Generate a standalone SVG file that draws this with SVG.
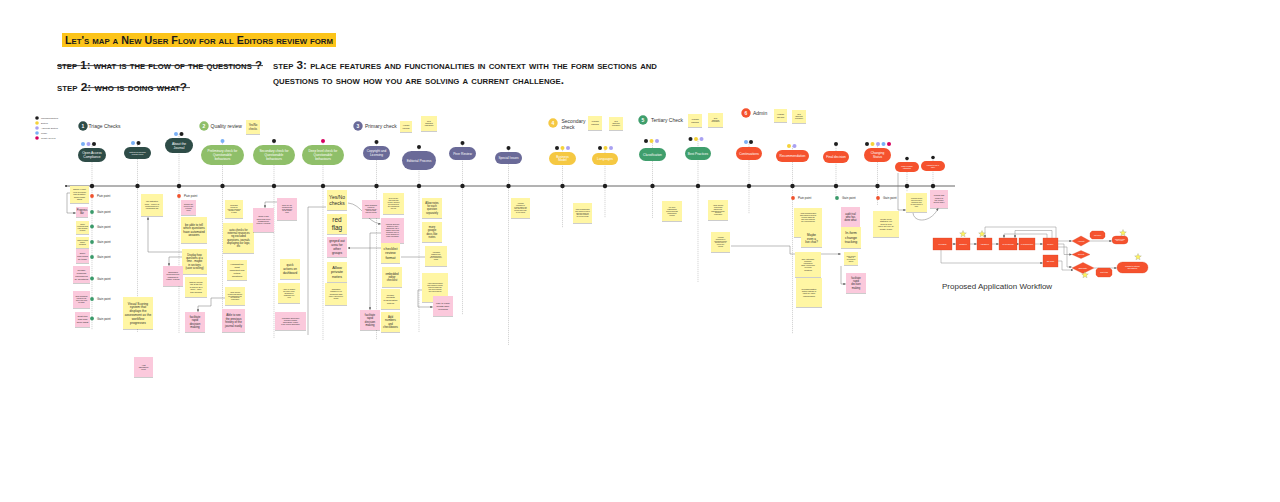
<svg xmlns="http://www.w3.org/2000/svg" width="1280" height="502" viewBox="0 0 1280 502">
<defs>
<style>
.sy{fill:#fff6a4;filter:url(#sh)}
.sp{fill:#fbc9dc;filter:url(#sh)}
.st{font-family:"Liberation Sans",Arial,sans-serif;fill:#2a2a2a;text-anchor:middle}
.pt{font-family:"Liberation Sans",Arial,sans-serif;fill:#ffffff;text-anchor:middle}
.hd{font-family:"Liberation Sans",Arial,sans-serif;fill:#333;font-size:5px}
.nm{font-family:"Liberation Sans",Arial,sans-serif;fill:#fff;font-size:5px;text-anchor:middle;font-weight:bold}
.lb{font-family:"Liberation Sans",Arial,sans-serif;fill:#333;font-size:3px}
.lg{font-family:"Liberation Sans",Arial,sans-serif;fill:#444;font-size:2.2px}
.vl{stroke:#c4c4c4;stroke-width:0.7;stroke-dasharray:1.2 0.8}
.cn{fill:none;stroke:#777;stroke-width:0.5}
.wf{fill:#f5522e;stroke:#d8401f;stroke-width:0.3}
.hand{font-family:"Liberation Sans",Arial,sans-serif;font-weight:bold;font-variant:small-caps;fill:#1a1a1a}
.bk{fill:#1e1e1e}.bl{fill:#7ab0f5}.lv{fill:#a9a1f2}.ye{fill:#f5d33a}.mg{fill:#d6005e}
.dg{fill:#2e4c47}.lgr{fill:#8fbf69}.pu{fill:#6a6a98}.yl{fill:#f5c842}.gr{fill:#3f9e6c}.rd{fill:#f5522e}
</style>
<filter id="sh" x="-20%" y="-20%" width="140%" height="150%"><feDropShadow dx="0" dy="0.8" stdDeviation="0.6" flood-opacity="0.25"/></filter>
<marker id="ah" viewBox="0 0 6 6" refX="5" refY="3" markerWidth="2.6" markerHeight="2.6" orient="auto-start-reverse" markerUnits="userSpaceOnUse"><path d="M0,0 L6,3 L0,6 z" fill="#666"/></marker>
<polygon id="star" points="0,-3.5 0.882,-1.214 3.329,-1.082 1.427,0.464 2.057,2.832 0,1.5 -2.057,2.832 -1.427,0.464 -3.329,-1.082 -0.882,-1.214" fill="#fff45c" stroke="#8a8a8a" stroke-width="0.3"/>
</defs>
<rect width="1280" height="502" fill="#ffffff"/>

<g id="title">
<rect x="62" y="33" width="274" height="14" fill="#fcc419"/>
<text class="hand" x="65" y="44.2" font-size="11" textLength="268" lengthAdjust="spacingAndGlyphs">Let's map a New User Flow for all Editors review form</text>
<text class="hand" x="57" y="68.5" font-size="10.5" textLength="205" lengthAdjust="spacingAndGlyphs">step 1: what is the flow of the questions ?</text>
<line x1="57" y1="65.6" x2="263" y2="65.6" stroke="#1a1a1a" stroke-width="0.8"/>
<text class="hand" x="57" y="90.5" font-size="10.5" textLength="130" lengthAdjust="spacingAndGlyphs">step 2: who is doing what?</text>
<line x1="85" y1="87.6" x2="190" y2="87.6" stroke="#1a1a1a" stroke-width="0.8"/>
<text class="hand" x="273" y="68.5" font-size="10.5" textLength="384" lengthAdjust="spacingAndGlyphs">step 3: place features and functionalities in context with the form sections and</text>
<text class="hand" x="273" y="83.5" font-size="10.5" textLength="291" lengthAdjust="spacingAndGlyphs">questions to show how you are solving a current challenge.</text>
</g>

<g id="legend">
<circle class="bk" cx="37" cy="118" r="1.8"/><text class="lg" x="41" y="118.8">Managing Editors</text>
<circle class="ye" cx="37" cy="123" r="1.8"/><text class="lg" x="41" y="123.8">Editors</text>
<circle class="lv" cx="37" cy="128" r="1.8"/><text class="lg" x="41" y="128.8">Associate Editors</text>
<circle class="bl" cx="37" cy="133" r="1.8"/><text class="lg" x="41" y="133.8">Triage</text>
<circle class="mg" cx="37" cy="138" r="1.8"/><text class="lg" x="41" y="138.8">Quality Review</text>
</g>

<g id="columns">
<line class="vl" x1="92" y1="144" x2="92" y2="330"/>
<line class="vl" x1="137.5" y1="143" x2="137.5" y2="332"/>
<line class="vl" x1="179" y1="134" x2="179" y2="333"/>
<line class="vl" x1="222.5" y1="141" x2="222.5" y2="330"/>
<line class="vl" x1="274" y1="141" x2="274" y2="338"/>
<line class="vl" x1="323" y1="141" x2="323" y2="340"/>
<line class="vl" x1="376.5" y1="142" x2="376.5" y2="340"/>
<line class="vl" x1="419" y1="147" x2="419" y2="332"/>
<line class="vl" x1="462.5" y1="143" x2="462.5" y2="315"/>
<line class="vl" x1="508.5" y1="148" x2="508.5" y2="345"/>
<line class="vl" x1="562.5" y1="148" x2="562.5" y2="228"/>
<line class="vl" x1="605" y1="148" x2="605" y2="218"/>
<line class="vl" x1="652.5" y1="141" x2="652.5" y2="218"/>
<line class="vl" x1="698" y1="139" x2="698" y2="282"/>
<line class="vl" x1="749" y1="142" x2="749" y2="214"/>
<line class="vl" x1="792.5" y1="146" x2="792.5" y2="334"/>
<line class="vl" x1="836" y1="144" x2="836" y2="200"/>
<line class="vl" x1="877.5" y1="144" x2="877.5" y2="205"/>
<line class="vl" x1="907" y1="158" x2="907" y2="192"/>
<line class="vl" x1="933" y1="158" x2="933" y2="190"/>
</g>

<g id="timeline">
<line x1="66" y1="186" x2="955" y2="186" stroke="#555" stroke-width="0.9"/>
<circle class="bk" cx="66" cy="186" r="0.9"/>
<g class="bk">
<circle cx="92" cy="186" r="2.2"/><circle cx="137.5" cy="186" r="2.2"/><circle cx="179" cy="186" r="2.2"/>
<circle cx="222.5" cy="186" r="2.2"/><circle cx="274" cy="186" r="2.2"/><circle cx="323" cy="186" r="2.2"/>
<circle cx="376.5" cy="186" r="2.2"/><circle cx="419" cy="186" r="2.2"/><circle cx="462.5" cy="186" r="2.2"/>
<circle cx="508.5" cy="186" r="2.2"/><circle cx="562.5" cy="186" r="2.2"/><circle cx="605" cy="186" r="2.2"/>
<circle cx="652.5" cy="186" r="2.2"/><circle cx="698" cy="186" r="2.2"/><circle cx="749" cy="186" r="2.2"/>
<circle cx="792.5" cy="186" r="2.2"/><circle cx="836" cy="186" r="2.2"/><circle cx="877.5" cy="186" r="2.2"/>
<circle cx="907" cy="186" r="2.2"/><circle cx="933" cy="186" r="2.2"/>
</g>
</g>

<g id="headers">
<g id="h1"><circle class="dg" cx="83" cy="126" r="4.7"/><text class="nm" x="83" y="127.8">1</text><text class="hd" x="88.5" y="127.8">Triage Checks</text></g>
<g id="h2"><circle class="lgr" cx="204" cy="126" r="4.7"/><text class="nm" x="204" y="127.8">2</text><text class="hd" x="210.5" y="127.8">Quality review</text></g>
<g id="h3"><circle class="pu" cx="358" cy="126" r="4.7"/><text class="nm" x="358" y="127.8">3</text><text class="hd" x="365" y="127.8">Primary check</text></g>
<g id="h4"><circle class="yl" cx="553" cy="123" r="4.7"/><text class="nm" x="553" y="124.8">4</text><text class="hd" x="561.5" y="122.8">Secondary</text><text class="hd" x="561.5" y="129.3">check</text></g>
<g id="h5"><circle class="gr" cx="643" cy="120" r="4.7"/><text class="nm" x="643" y="121.8">5</text><text class="hd" x="651" y="121.8">Tertiary Check</text></g>
<g id="h6"><circle class="rd" cx="746" cy="113" r="4.7"/><text class="nm" x="746" y="114.8">6</text><text class="hd" x="753" y="114.8">Admin</text></g>
</g>

<g id="header-notes">
<g id="hn1"><rect class="sy" x="246" y="120" width="14" height="14"/><text class="st" font-size="2.7" x="253" y="126.3"><tspan x="253">Yes/No</tspan><tspan x="253" dy="3.24">checks</tspan></text></g>
<g id="hn2"><rect class="sy" x="400" y="121" width="12" height="11"/><text class="st" font-size="2.2" x="406" y="125.95"><tspan x="406">Yes/No</tspan><tspan x="406" dy="2.64">checks</tspan></text></g>
<g id="hn3"><rect class="sy" x="421" y="116" width="16" height="15"/><text class="st" font-size="1.6" x="429" y="122.1"><tspan x="429">Clear</tspan><tspan x="429" dy="1.92">"dismissed"</tspan><tspan x="429" dy="1.92">notifications</tspan></text></g>
<g id="hn4"><rect class="sy" x="588" y="116" width="14" height="14"/><text class="st" font-size="2.4" x="595" y="122.4"><tspan x="595">Yes/No</tspan><tspan x="595" dy="2.88">checks</tspan></text></g>
<g id="hn5"><rect class="sy" x="609" y="117" width="14" height="13"/><text class="st" font-size="1.5" x="616" y="122.2"><tspan x="616">Clear</tspan><tspan x="616" dy="1.8">"dismissed"</tspan><tspan x="616" dy="1.8">notifications</tspan></text></g>
<g id="hn6"><rect class="sy" x="688" y="114" width="14" height="13"/><text class="st" font-size="2.4" x="695" y="119.9"><tspan x="695">Yes/No</tspan><tspan x="695" dy="2.88">checks</tspan></text></g>
<g id="hn7"><rect class="sy" x="708" y="113" width="15" height="14"/><text class="st" font-size="1.5" x="715.5" y="118.7"><tspan x="715.5">Clear</tspan><tspan x="715.5" dy="1.8">"dismissed"</tspan><tspan x="715.5" dy="1.8">notifications</tspan></text></g>
<g id="hn8"><rect class="sy" x="774" y="109" width="13" height="13"/><text class="st" font-size="2.3" x="780.5" y="114.9"><tspan x="780.5">Yes/No</tspan><tspan x="780.5" dy="2.76">checks</tspan></text></g>
<g id="hn9"><rect class="sy" x="792" y="110" width="14" height="13"/><text class="st" font-size="1.5" x="799" y="115.2"><tspan x="799">Clear</tspan><tspan x="799" dy="1.8">"dismissed"</tspan><tspan x="799" dy="1.8">notifications</tspan></text></g>
</g>

<g id="role-dots">
<circle class="bl" cx="83" cy="144" r="2"/><circle class="lv" cx="88.5" cy="144" r="2"/><circle class="bk" cx="94" cy="144" r="2"/>
<circle class="bl" cx="133" cy="143" r="2"/><circle class="bk" cx="138.5" cy="143" r="2"/>
<circle class="bl" cx="176" cy="134" r="2"/><circle class="bk" cx="181.5" cy="134" r="2"/>
<circle class="bl" cx="222.5" cy="141" r="2"/>
<circle class="bk" cx="274" cy="141" r="2"/>
<circle class="mg" cx="323" cy="141" r="2"/>
<circle class="bk" cx="376.5" cy="142" r="2"/>
<circle class="bk" cx="419" cy="147" r="2"/>
<circle class="bk" cx="462.5" cy="143" r="2"/>
<circle class="bk" cx="508.5" cy="148" r="2"/>
<circle class="bk" cx="557" cy="148" r="2"/><circle class="ye" cx="562.5" cy="148" r="2"/><circle class="lv" cx="568" cy="148" r="2"/>
<circle class="bk" cx="600" cy="148" r="2"/><circle class="ye" cx="605.5" cy="148" r="2"/><circle class="lv" cx="611" cy="148" r="2"/>
<circle class="bk" cx="646" cy="141" r="2"/><circle class="ye" cx="651.5" cy="141" r="2"/><circle class="lv" cx="657" cy="141" r="2"/>
<circle class="bk" cx="690.5" cy="139" r="2"/><circle class="ye" cx="696" cy="139" r="2"/><circle class="lv" cx="701.5" cy="139" r="2"/>
<circle class="bl" cx="746" cy="142" r="2"/><circle class="bk" cx="751" cy="142" r="2"/>
<circle class="ye" cx="789" cy="146" r="2"/><circle class="lv" cx="794.5" cy="146" r="2"/>
<circle class="bk" cx="836" cy="144" r="2"/>
<circle class="bk" cx="867" cy="144" r="2"/><circle class="ye" cx="872.5" cy="144" r="2"/><circle class="lv" cx="878" cy="144" r="2"/><circle class="bl" cx="883.5" cy="144" r="2"/><circle class="mg" cx="889" cy="144" r="2"/>
<circle class="bk" cx="907" cy="158.5" r="1.8"/><circle class="bk" cx="933" cy="157.5" r="1.8"/>
</g>

<g id="nodes">
<g id="p1"><rect class="dg" x="78" y="148" width="28" height="14" rx="7"/><text class="pt" font-size="3.3" x="92" y="154.2"><tspan x="92">Open Access</tspan><tspan x="92" dy="3.96">Compliance</tspan></text></g>
<g id="p2"><rect class="dg" x="124" y="147" width="27" height="12" rx="6"/><text class="pt" font-size="2" x="137.5" y="152.5"><tspan x="137.5">Criteria for specific</tspan><tspan x="137.5" dy="2.4">journal types</tspan></text></g>
<g id="p3"><rect class="dg" x="165" y="138" width="28" height="15" rx="7.5"/><text class="pt" font-size="3.3" x="179" y="144.7"><tspan x="179">About the</tspan><tspan x="179" dy="3.96">Journal</tspan></text></g>
<g id="p4"><rect class="lgr" x="201" y="145" width="43" height="20" rx="10"/><text class="pt" font-size="3.2" x="222.5" y="152.3"><tspan x="222.5">Preliminary check for</tspan><tspan x="222.5" dy="3.84">Questionable</tspan><tspan x="222.5" dy="3.84">behaviours</tspan></text></g>
<g id="p5"><rect class="lgr" x="253" y="145" width="42" height="20" rx="10"/><text class="pt" font-size="3.2" x="274" y="152.3"><tspan x="274">Secondary check for</tspan><tspan x="274" dy="3.84">Questionable</tspan><tspan x="274" dy="3.84">behaviours</tspan></text></g>
<g id="p6"><rect class="lgr" x="302" y="145" width="42" height="20" rx="10"/><text class="pt" font-size="3.2" x="323" y="152.3"><tspan x="323">Deep level check for</tspan><tspan x="323" dy="3.84">Questionable</tspan><tspan x="323" dy="3.84">behaviours</tspan></text></g>
<g id="p7"><rect class="pu" x="363" y="146" width="27" height="14" rx="7"/><text class="pt" font-size="3.1" x="376.5" y="152.2"><tspan x="376.5">Copyright and</tspan><tspan x="376.5" dy="3.72">Licensing</tspan></text></g>
<g id="p8"><rect class="pu" x="402" y="151" width="34" height="19" rx="9.5"/><text class="pt" font-size="3.3" x="419" y="161.7">Editorial Process</text></g>
<g id="p9"><rect class="pu" x="449" y="147" width="27" height="13" rx="6.5"/><text class="pt" font-size="3.3" x="462.5" y="154.7">Peer Review</text></g>
<g id="p10"><rect class="pu" x="495" y="152" width="27" height="12" rx="6"/><text class="pt" font-size="3.1" x="508.5" y="159.1">Special Issues</text></g>
<g id="p11"><rect class="yl" x="549" y="152" width="27" height="13" rx="6.5"/><text class="pt" font-size="3.1" x="562.5" y="157.7"><tspan x="562.5">Business</tspan><tspan x="562.5" dy="3.72">Model</tspan></text></g>
<g id="p12"><rect class="yl" x="592" y="153" width="26" height="12" rx="6"/><text class="pt" font-size="3.2" x="605" y="160.1">Languages</text></g>
<g id="p13"><rect class="gr" x="639" y="148" width="27" height="13" rx="6.5"/><text class="pt" font-size="3.2" x="652.5" y="155.6">Classification</text></g>
<g id="p14"><rect class="gr" x="685" y="147" width="26" height="13" rx="6.5"/><text class="pt" font-size="3.2" x="698" y="154.6">Best Practices</text></g>
<g id="p15"><rect class="rd" x="736" y="147" width="26" height="13" rx="6.5"/><text class="pt" font-size="3.2" x="749" y="154.6">Continuations</text></g>
<g id="p16"><rect class="rd" x="776" y="150" width="33" height="12" rx="6"/><text class="pt" font-size="3.3" x="792.5" y="157.1">Recommendation</text></g>
<g id="p17"><rect class="rd" x="823" y="151" width="26" height="12" rx="6"/><text class="pt" font-size="3.2" x="836" y="158.1">Final decision</text></g>
<g id="p18"><rect class="rd" x="864" y="148" width="27" height="14" rx="7"/><text class="pt" font-size="3.2" x="877.5" y="154.2"><tspan x="877.5">Changing</tspan><tspan x="877.5" dy="3.84">Status</tspan></text></g>
<g id="p19"><rect class="rd" x="895" y="162" width="24" height="10" rx="5"/><text class="pt" font-size="1.7" x="907" y="166.6"><tspan x="907">Public viewable</tspan><tspan x="907" dy="2.04">notification</tspan></text></g>
<g id="p20"><rect class="rd" x="921" y="161" width="24" height="10" rx="5"/><text class="pt" font-size="1.7" x="933" y="165.6"><tspan x="933">Publish to DOAJ</tspan><tspan x="933" dy="2.04">Index</tspan></text></g>
</g>

<g id="points">
<circle cx="92" cy="196" r="1.9" fill="#f0522d"/><text class="lb" x="97" y="197.1">Pain point</text>
<circle cx="92" cy="212" r="1.9" fill="#3a9a6a"/><text class="lb" x="97" y="213.1">Gain point</text>
<circle cx="92" cy="226.5" r="1.9" fill="#3a9a6a"/><text class="lb" x="97" y="227.6">Gain point</text>
<circle cx="92" cy="242" r="1.9" fill="#3a9a6a"/><text class="lb" x="97" y="243.1">Gain point</text>
<circle cx="92" cy="257" r="1.9" fill="#3a9a6a"/><text class="lb" x="97" y="258.1">Gain point</text>
<circle cx="92" cy="278.5" r="1.9" fill="#3a9a6a"/><text class="lb" x="97" y="279.6">Gain point</text>
<circle cx="92" cy="299" r="1.9" fill="#3a9a6a"/><text class="lb" x="97" y="300.1">Gain point</text>
<circle cx="92" cy="318.5" r="1.9" fill="#3a9a6a"/><text class="lb" x="97" y="319.6">Gain point</text>
<circle cx="179" cy="196" r="1.9" fill="#f0522d"/><text class="lb" x="184" y="197.1">Pain point</text>
<circle cx="793" cy="198" r="1.9" fill="#f0522d"/><text class="lb" x="798" y="199.1">Pain point</text>
<circle cx="837" cy="198" r="1.9" fill="#3a9a6a"/><text class="lb" x="842" y="199.1">Gain point</text>
<circle cx="878" cy="198" r="1.9" fill="#f0522d"/><text class="lb" x="883" y="199.1">Gain point</text>
</g>

<g id="connectors">
<path class="cn" d="M70 193 H67 V213 H75.5" marker-end="url(#ah)"/>
<path class="cn" d="M182 252 H148 V217.5" marker-end="url(#ah)"/>
<path class="cn" d="M182 257 H169 V265.5" marker-end="url(#ah)"/>
<path class="cn" d="M277 202 H265 V207.5" marker-end="url(#ah)"/>
<path class="cn" d="M326 207 H308 V335"/>
<path class="cn" d="M225 298 H211 V306 H198 V311.5" marker-end="url(#ah)"/>
<path class="cn" d="M348 203 C362 204 366 222 380.5 224" marker-end="url(#ah)"/>
<path class="cn" d="M381 233 H370 V309.5" marker-end="url(#ah)"/>
<path class="cn" d="M425 257 H401"/>
<path class="cn" d="M381 248 H348" marker-end="url(#ah)"/>
<path class="cn" d="M422 290 H418 V307 H432.5" marker-end="url(#ah)"/>
<path class="cn" d="M731 246 H790 V254 H840.5" marker-end="url(#ah)"/>
<path class="cn" d="M841 266 V284 H845.5" marker-end="url(#ah)"/>
<path class="cn" d="M898 173 V210 H905.5" marker-end="url(#ah)"/>
<path class="cn" d="M913 213 C914 223 931 223 938 208.5" marker-end="url(#ah)"/>
</g>

<g id="notes">
<g id="s1"><rect class="sy" x="70" y="186" width="19" height="17"/><text class="st" font-size="2" x="79.5" y="190.4"><tspan x="79.5">Display expert</tspan><tspan x="79.5" dy="2.4">view of journal</tspan><tspan x="79.5" dy="2.4">and its history</tspan><tspan x="79.5" dy="2.4">before triage</tspan><tspan x="79.5" dy="2.4">starts</tspan></text></g>
<g id="s2"><rect class="sp" x="76" y="207" width="12" height="10"/><text class="st" font-size="2.6" x="82" y="211.35"><tspan x="82">Progress</tspan><tspan x="82" dy="3.12">bar</tspan></text></g>
<g id="s3"><rect class="sy" x="76" y="221" width="13" height="13"/><text class="st" font-size="1.6" x="82.5" y="225.2"><tspan x="82.5">Tooltip</tspan><tspan x="82.5" dy="1.92">explaining what</tspan><tspan x="82.5" dy="1.92">each question</tspan><tspan x="82.5" dy="1.92">is about</tspan></text></g>
<g id="s4"><rect class="sy" x="76" y="237" width="13" height="11"/><text class="st" font-size="1.6" x="82.5" y="241.1"><tspan x="82.5">Option to show</tspan><tspan x="82.5" dy="1.92">hidden</tspan><tspan x="82.5" dy="1.92">questions</tspan></text></g>
<g id="s5"><rect class="sp" x="76" y="249" width="13" height="14"/><text class="st" font-size="2.3" x="82.5" y="254"><tspan x="82.5">super</tspan><tspan x="82.5" dy="2.76">plan forms</tspan><tspan x="82.5" dy="2.76">for triage</tspan></text></g>
<g id="s6"><rect class="sp" x="73" y="266" width="17" height="17"/><text class="st" font-size="2.4" x="81.5" y="271"><tspan x="81.5">Render</tspan><tspan x="81.5" dy="2.88">progress</tspan><tspan x="81.5" dy="2.88">checkboxes</tspan><tspan x="81.5" dy="2.88">by questions</tspan></text></g>
<g id="s7"><rect class="sp" x="73" y="291" width="17" height="17"/><text class="st" font-size="1.6" x="81.5" y="297.2"><tspan x="81.5">Show automated</tspan><tspan x="81.5" dy="1.92">checks on the</tspan><tspan x="81.5" dy="1.92">side of the form</tspan><tspan x="81.5" dy="1.92">for triage</tspan></text></g>
<g id="s8"><rect class="sp" x="75" y="312" width="15" height="15"/><text class="st" font-size="2.5" x="82.5" y="317.4"><tspan x="82.5">audit trail</tspan><tspan x="82.5" dy="3">who has</tspan><tspan x="82.5" dy="3">done what</tspan></text></g>
<g id="s9"><rect class="sy" x="141" y="194" width="22" height="22"/><text class="st" font-size="1.8" x="152" y="202.4"><tspan x="152">Use distraction</tspan><tspan x="152" dy="2.16">mode - remove all</tspan><tspan x="152" dy="2.16">header/footers in</tspan><tspan x="152" dy="2.16">"minimising" tab</tspan></text></g>
<g id="s10"><rect class="sy" x="123" y="297" width="30" height="32"/><text class="st" font-size="3.2" x="138" y="304.5"><tspan x="138">Visual Scoring</tspan><tspan x="138" dy="3.84">system that</tspan><tspan x="138" dy="3.84">displays the</tspan><tspan x="138" dy="3.84">assessment as the</tspan><tspan x="138" dy="3.84">workflow</tspan><tspan x="138" dy="3.84">progresses</tspan></text></g>
<g id="s11"><rect class="sp" x="134" y="357" width="19" height="20"/><text class="st" font-size="1.8" x="143.5" y="365.5"><tspan x="143.5">Audit</tspan><tspan x="143.5" dy="2.16">assessment</tspan><tspan x="143.5" dy="2.16">report</tspan></text></g>
<g id="s12"><rect class="sp" x="181" y="200" width="15" height="15"/><text class="st" font-size="1.8" x="188.5" y="204.9"><tspan x="188.5">Reduce the</tspan><tspan x="188.5" dy="2.16">need to use</tspan><tspan x="188.5" dy="2.16">external</tspan><tspan x="188.5" dy="2.16">tools</tspan></text></g>
<g id="s13"><rect class="sy" x="181" y="217" width="26" height="26"/><text class="st" font-size="3" x="194" y="225.65"><tspan x="194">be able to tell</tspan><tspan x="194" dy="3.6">which questions</tspan><tspan x="194" dy="3.6">have automated</tspan><tspan x="194" dy="3.6">answers</tspan></text></g>
<g id="s14"><rect class="sy" x="182" y="249" width="25" height="25"/><text class="st" font-size="2.7" x="194.5" y="255.97"><tspan x="194.5">Display how</tspan><tspan x="194.5" dy="3.24">questions at a</tspan><tspan x="194.5" dy="3.24">time - maybe</tspan><tspan x="194.5" dy="3.24">in sections</tspan><tspan x="194.5" dy="3.24">(save scrolling)</tspan></text></g>
<g id="s15"><rect class="sp" x="163" y="266" width="20" height="20"/><text class="st" font-size="1.9" x="173" y="273.2"><tspan x="173">Showcases</tspan><tspan x="173" dy="2.28">focus and keep</tspan><tspan x="173" dy="2.28">engagement,</tspan><tspan x="173" dy="2.28">reduce "Facing"</tspan></text></g>
<g id="s16"><rect class="sy" x="185" y="277" width="22" height="20"/><text class="st" font-size="2" x="196" y="282.9"><tspan x="196">Display journal</tspan><tspan x="196" dy="2.4">info at the top</tspan><tspan x="196" dy="2.4">of screen as a</tspan><tspan x="196" dy="2.4">sticky - save</tspan><tspan x="196" dy="2.4">time scrolling</tspan></text></g>
<g id="s17"><rect class="sp" x="185" y="312" width="20" height="20"/><text class="st" font-size="2.9" x="195" y="317.8"><tspan x="195">facilitate</tspan><tspan x="195" dy="3.48">rapid</tspan><tspan x="195" dy="3.48">decision</tspan><tspan x="195" dy="3.48">making</tspan></text></g>
<g id="s18"><rect class="sy" x="225" y="200" width="18" height="18"/><text class="st" font-size="1.6" x="234" y="205.7"><tspan x="234">automated</tspan><tspan x="234" dy="1.92">checks for</tspan><tspan x="234" dy="1.92">external resources</tspan><tspan x="234" dy="1.92">(Crossref, ISSN)</tspan><tspan x="234" dy="1.92">&amp; logos</tspan></text></g>
<g id="s19"><rect class="sy" x="223" y="223" width="31" height="30"/><text class="st" font-size="2.7" x="238.5" y="230.85"><tspan x="238.5">auto-checks for</tspan><tspan x="238.5" dy="3.24">external resources</tspan><tspan x="238.5" dy="3.24">ng excluded</tspan><tspan x="238.5" dy="3.24">questions, journals</tspan><tspan x="238.5" dy="3.24">displaying our logo,</tspan><tspan x="238.5" dy="3.24">etc</tspan></text></g>
<g id="s20"><rect class="sy" x="227" y="260" width="20" height="20"/><text class="st" font-size="2.4" x="237" y="265.1"><tspan x="237">Highlight the</tspan><tspan x="237" dy="2.88">most</tspan><tspan x="237" dy="2.88">important and</tspan><tspan x="237" dy="2.88">critical</tspan><tspan x="237" dy="2.88">questions</tspan></text></g>
<g id="s21"><rect class="sy" x="225" y="287" width="20" height="18"/><text class="st" font-size="1.6" x="235" y="292.7"><tspan x="235">Visual Scoring</tspan><tspan x="235" dy="1.92">system that displays</tspan><tspan x="235" dy="1.92">the assessment as</tspan><tspan x="235" dy="1.92">the workflow</tspan><tspan x="235" dy="1.92">progresses</tspan></text></g>
<g id="s22"><rect class="sp" x="222" y="309" width="23" height="23"/><text class="st" font-size="2.9" x="233.5" y="316.3"><tspan x="233.5">Able to see</tspan><tspan x="233.5" dy="3.48">the previous</tspan><tspan x="233.5" dy="3.48">history of the</tspan><tspan x="233.5" dy="3.48">journal easily</tspan></text></g>
<g id="s23"><rect class="sp" x="253" y="208" width="21" height="24"/><text class="st" font-size="2" x="263.5" y="217.1"><tspan x="263.5">Show exam</tspan><tspan x="263.5" dy="2.4">focus and keep</tspan><tspan x="263.5" dy="2.4">engagement,</tspan><tspan x="263.5" dy="2.4">reduce "Facing"</tspan></text></g>
<g id="s24"><rect class="sp" x="277" y="198" width="20" height="22"/><text class="st" font-size="1.6" x="287" y="205.7"><tspan x="287">Show only the</tspan><tspan x="287" dy="1.92">questions that</tspan><tspan x="287" dy="1.92">need attention</tspan><tspan x="287" dy="1.92">for the quality</tspan><tspan x="287" dy="1.92">team</tspan></text></g>
<g id="s25"><rect class="sy" x="280" y="259" width="20" height="20"/><text class="st" font-size="3" x="290" y="266.45"><tspan x="290">quick</tspan><tspan x="290" dy="3.6">actions on</tspan><tspan x="290" dy="3.6">dashboard</tspan></text></g>
<g id="s26"><rect class="sy" x="278" y="283" width="22" height="20"/><text class="st" font-size="1.7" x="289" y="289.5"><tspan x="289">Ability to change</tspan><tspan x="289" dy="2.04">the order of the</tspan><tspan x="289" dy="2.04">questions or</tspan><tspan x="289" dy="2.04">customise our</tspan><tspan x="289" dy="2.04">view</tspan></text></g>
<g id="s27"><rect class="sp" x="275" y="312" width="31" height="18"/><text class="st" font-size="1.7" x="290.5" y="318.5"><tspan x="290.5">Information about other</tspan><tspan x="290.5" dy="2.04">journals or similar</tspan><tspan x="290.5" dy="2.04">applications, related</tspan><tspan x="290.5" dy="2.04">to the current application</tspan></text></g>
<g id="s28"><rect class="sy" x="327" y="190" width="20" height="20"/><text class="st" font-size="5" x="337" y="198.75"><tspan x="337">Yes/No</tspan><tspan x="337" dy="6">checks</tspan></text></g>
<g id="s29"><rect class="sy" x="327" y="214" width="20" height="20"/><text class="st" font-size="6.5" x="337" y="222.4"><tspan x="337">red</tspan><tspan x="337" dy="7.8">flag</tspan></text></g>
<g id="s30"><rect class="sp" x="327" y="237" width="20" height="20"/><text class="st" font-size="3.3" x="337" y="242.2"><tspan x="337">greyed out</tspan><tspan x="337" dy="3.96">area for</tspan><tspan x="337" dy="3.96">other</tspan><tspan x="337" dy="3.96">groups</tspan></text></g>
<g id="s31"><rect class="sy" x="327" y="262" width="20" height="20"/><text class="st" font-size="4" x="337" y="268.6"><tspan x="337">Allow</tspan><tspan x="337" dy="4.8">private</tspan><tspan x="337" dy="4.8">notes</tspan></text></g>
<g id="s32"><rect class="sy" x="325" y="283" width="22" height="22"/><text class="st" font-size="1.8" x="336" y="290.3"><tspan x="336">automated</tspan><tspan x="336" dy="2.16">flagging of red</tspan><tspan x="336" dy="2.16">questions (data</tspan><tspan x="336" dy="2.16">index) checked by</tspan><tspan x="336" dy="2.16">Triage</tspan></text></g>
<g id="s33"><rect class="sp" x="362" y="200" width="18" height="18"/><text class="st" font-size="1.6" x="371" y="205.7"><tspan x="371">Show automated</tspan><tspan x="371" dy="1.92">results for</tspan><tspan x="371" dy="1.92">licenses (CC BY)</tspan><tspan x="371" dy="1.92">and copyright</tspan><tspan x="371" dy="1.92">from the journal</tspan></text></g>
<g id="s34"><rect class="sy" x="383" y="193" width="21" height="21"/><text class="st" font-size="1.6" x="393.5" y="199.3"><tspan x="393.5">Deep link the</tspan><tspan x="393.5" dy="1.92">Copyright and</tspan><tspan x="393.5" dy="1.92">license: checked</tspan><tspan x="393.5" dy="1.92">for accepted on</tspan><tspan x="393.5" dy="1.92">the permissions</tspan><tspan x="393.5" dy="1.92">site link</tspan></text></g>
<g id="s35"><rect class="sp" x="381" y="218" width="23" height="25"/><text class="st" font-size="1.6" x="392.5" y="225.3"><tspan x="392.5">Workflow about the</tspan><tspan x="392.5" dy="1.92">answers in three</tspan><tspan x="392.5" dy="1.92">statements; can it</tspan><tspan x="392.5" dy="1.92">answer each of the</tspan><tspan x="392.5" dy="1.92">questions; sure of</tspan><tspan x="392.5" dy="1.92">all the answers for</tspan><tspan x="392.5" dy="1.92">public information</tspan></text></g>
<g id="s36"><rect class="sy" x="381" y="243" width="19" height="20"/><text class="st" font-size="3.6" x="390.5" y="249.9"><tspan x="390.5">checklist</tspan><tspan x="390.5" dy="4.32">review</tspan><tspan x="390.5" dy="4.32">format</tspan></text></g>
<g id="s37"><rect class="sy" x="382" y="267" width="20" height="20"/><text class="st" font-size="2.8" x="392" y="274.6"><tspan x="392">embedded</tspan><tspan x="392" dy="3.36">editor</tspan><tspan x="392" dy="3.36">checklist</tspan></text></g>
<g id="s38"><rect class="sy" x="381" y="289" width="19" height="20"/><text class="st" font-size="2.4" x="390.5" y="295.5"><tspan x="390.5">clearer</tspan><tspan x="390.5" dy="2.88">prompts</tspan><tspan x="390.5" dy="2.88">to Evaluation</tspan><tspan x="390.5" dy="2.88">criteria</tspan></text></g>
<g id="s39"><rect class="sy" x="381" y="312" width="19" height="20"/><text class="st" font-size="2.8" x="390.5" y="317.9"><tspan x="390.5">Add</tspan><tspan x="390.5" dy="3.36">numbers</tspan><tspan x="390.5" dy="3.36">and</tspan><tspan x="390.5" dy="3.36">checkboxes</tspan></text></g>
<g id="s40"><rect class="sp" x="360" y="310" width="20" height="20"/><text class="st" font-size="2.8" x="370" y="315.9"><tspan x="370">facilitate</tspan><tspan x="370" dy="3.36">rapid</tspan><tspan x="370" dy="3.36">decision</tspan><tspan x="370" dy="3.36">making</tspan></text></g>
<g id="s41"><rect class="sy" x="422" y="198" width="20" height="20"/><text class="st" font-size="2.6" x="432" y="204.2"><tspan x="432">Allow notes</tspan><tspan x="432" dy="3.12">for each</tspan><tspan x="432" dy="3.12">question</tspan><tspan x="432" dy="3.12">separately</tspan></text></g>
<g id="s42"><rect class="sy" x="422" y="222" width="20" height="20"/><text class="st" font-size="2.8" x="432" y="227.9"><tspan x="432">more</tspan><tspan x="432" dy="3.36">google</tspan><tspan x="432" dy="3.36">docs like</tspan><tspan x="432" dy="3.36">notes</tspan></text></g>
<g id="s43"><rect class="sy" x="425" y="246" width="22" height="20"/><text class="st" font-size="1.6" x="436" y="252.7"><tspan x="436">Automated</tspan><tspan x="436" dy="1.92">flagging once</tspan><tspan x="436" dy="1.92">questions have</tspan><tspan x="436" dy="1.92">been checked by</tspan><tspan x="436" dy="1.92">Triage</tspan></text></g>
<g id="s44"><rect class="sy" x="422" y="273" width="26" height="29"/><text class="st" font-size="1.6" x="435" y="284.2"><tspan x="435">Adopt communication</tspan><tspan x="435" dy="1.92">with editors/reviewers</tspan><tspan x="435" dy="1.92">and from within the</tspan><tspan x="435" dy="1.92">app form retaining</tspan><tspan x="435" dy="1.92">the current thread</tspan></text></g>
<g id="s45"><rect class="sp" x="433" y="296" width="20" height="20"/><text class="st" font-size="2.3" x="443" y="304"><tspan x="443">easy to clarify</tspan><tspan x="443" dy="2.76">doubts while</tspan><tspan x="443" dy="2.76">reviewing</tspan></text></g>
<g id="s46"><rect class="sy" x="511" y="198" width="19" height="20"/><text class="st" font-size="1.5" x="520.5" y="204"><tspan x="520.5">Automatic</tspan><tspan x="520.5" dy="1.8">notification to</tspan><tspan x="520.5" dy="1.8">a Guest Editor that</tspan><tspan x="520.5" dy="1.8">they can check the</tspan><tspan x="520.5" dy="1.8">special issue page</tspan><tspan x="520.5" dy="1.8">for the journal</tspan></text></g>
<g id="s47"><rect class="sy" x="573" y="203" width="19" height="20"/><text class="st" font-size="1.5" x="582.5" y="209.9"><tspan x="582.5">Adopt communication</tspan><tspan x="582.5" dy="1.8">with editors/reviewers</tspan><tspan x="582.5" dy="1.8">and from within the</tspan><tspan x="582.5" dy="1.8">app form retaining</tspan><tspan x="582.5" dy="1.8">the current thread</tspan></text></g>
<g id="s48"><rect class="sy" x="662" y="201" width="20" height="20"/><text class="st" font-size="1.7" x="672" y="207.5"><tspan x="672">pre-filled</tspan><tspan x="672" dy="2.04">classification</tspan><tspan x="672" dy="2.04">section through</tspan><tspan x="672" dy="2.04">background</tspan><tspan x="672" dy="2.04">checks</tspan></text></g>
<g id="s49"><rect class="sy" x="708" y="200" width="20" height="20"/><text class="st" font-size="1.6" x="718" y="205.8"><tspan x="718">Visual Scoring</tspan><tspan x="718" dy="1.92">system that</tspan><tspan x="718" dy="1.92">displays the</tspan><tspan x="718" dy="1.92">assessment as the</tspan><tspan x="718" dy="1.92">workflow</tspan><tspan x="718" dy="1.92">progresses</tspan></text></g>
<g id="s50"><rect class="sy" x="711" y="232" width="19" height="20"/><text class="st" font-size="1.5" x="720.5" y="238"><tspan x="720.5">Automatic</tspan><tspan x="720.5" dy="1.8">notifications to</tspan><tspan x="720.5" dy="1.8">continuing journals</tspan><tspan x="720.5" dy="1.8">that they have to</tspan><tspan x="720.5" dy="1.8">renew their</tspan><tspan x="720.5" dy="1.8">records</tspan></text></g>
<g id="s51"><rect class="sy" x="794" y="208" width="28" height="29"/><text class="st" font-size="1.7" x="808" y="213.5"><tspan x="808">Adopt communication</tspan><tspan x="808" dy="2.04">with editors/reviewers</tspan><tspan x="808" dy="2.04">via from within the</tspan><tspan x="808" dy="2.04">app form retaining</tspan><tspan x="808" dy="2.04">the current thread</tspan></text></g>
<g id="s52"><rect class="sy" x="801" y="230" width="21" height="17"/><text class="st" font-size="3" x="811.5" y="235.95"><tspan x="811.5">Maybe</tspan><tspan x="811.5" dy="3.6">even a</tspan><tspan x="811.5" dy="3.6">live chat?</tspan></text></g>
<g id="s53"><rect class="sy" x="795" y="252" width="26" height="25"/><text class="st" font-size="1.8" x="808" y="259.7"><tspan x="808">Daily actionable</tspan><tspan x="808" dy="2.16">summary</tspan><tspan x="808" dy="2.16">information</tspan><tspan x="808" dy="2.16">what I know from</tspan><tspan x="808" dy="2.16">previous</tspan><tspan x="808" dy="2.16">questions</tspan></text></g>
<g id="s54"><rect class="sy" x="796" y="278" width="26" height="29"/><text class="st" font-size="1.9" x="809" y="289.75"><tspan x="809">Recommendation</tspan><tspan x="809" dy="2.28">button instead of</tspan><tspan x="809" dy="2.28">input for Assoc</tspan><tspan x="809" dy="2.28">editors/editors</tspan></text></g>
<g id="s55"><rect class="sp" x="841" y="207" width="19" height="20"/><text class="st" font-size="2.6" x="850.5" y="214.8"><tspan x="850.5">audit trail</tspan><tspan x="850.5" dy="3.12">who has</tspan><tspan x="850.5" dy="3.12">done what</tspan></text></g>
<g id="s56"><rect class="sy" x="841" y="227" width="20" height="21"/><text class="st" font-size="3.6" x="851" y="234.4"><tspan x="851">In-form</tspan><tspan x="851" dy="4.32">change</tspan><tspan x="851" dy="4.32">tracking</tspan></text></g>
<g id="s57"><rect class="sy" x="844" y="252" width="14" height="13"/><text class="st" font-size="1.4" x="851" y="256.5"><tspan x="851">Show decision</tspan><tspan x="851" dy="1.68">history to</tspan><tspan x="851" dy="1.68">the Managing</tspan><tspan x="851" dy="1.68">Editors</tspan></text></g>
<g id="s58"><rect class="sp" x="846" y="273" width="20" height="20"/><text class="st" font-size="2.6" x="856" y="279.2"><tspan x="856">facilitate</tspan><tspan x="856" dy="3.12">rapid</tspan><tspan x="856" dy="3.12">decision</tspan><tspan x="856" dy="3.12">making</tspan></text></g>
<g id="s59"><rect class="sy" x="873" y="211" width="26" height="26"/><text class="st" font-size="2.2" x="886" y="219.5"><tspan x="886">create more</tspan><tspan x="886" dy="2.64">statuses (on</tspan><tspan x="886" dy="2.64">hold is now</tspan><tspan x="886" dy="2.64">used not only by</tspan><tspan x="886" dy="2.64">quality team)</tspan></text></g>
<g id="s60"><rect class="sy" x="906" y="193" width="21" height="19"/><text class="st" font-size="1.5" x="916.5" y="199.4"><tspan x="916.5">Workflow should</tspan><tspan x="916.5" dy="1.8">allow Reviewers</tspan><tspan x="916.5" dy="1.8">notification after</tspan><tspan x="916.5" dy="1.8">the assessment is</tspan><tspan x="916.5" dy="1.8">done</tspan></text></g>
<g id="s61"><rect class="sp" x="930" y="190" width="18" height="18"/><text class="st" font-size="2" x="939" y="196.1"><tspan x="939">Publish and</tspan><tspan x="939" dy="2.4">push it to</tspan><tspan x="939" dy="2.4">the Public</tspan><tspan x="939" dy="2.4">Group index</tspan></text></g>
</g>

<g id="workflow">
<g id="wf-connectors" fill="none" stroke="#888" stroke-width="0.5">
<path d="M952 244 H955.5" marker-end="url(#ah)"/>
<path d="M970 244 H976.5" marker-end="url(#ah)"/>
<path d="M992 244 H998.5" marker-end="url(#ah)"/>
<path d="M1017 244 H1018.8" marker-end="url(#ah)"/>
<path d="M1035 244 H1042.5" marker-end="url(#ah)"/>
<path d="M1056 238 V227 H985 V237.5" marker-end="url(#ah)"/>
<path d="M1052 238 V230.5 H1015 V237.5" marker-end="url(#ah)"/>
<path d="M1047 238 V234 H1004 V237.5" marker-end="url(#ah)"/>
<path d="M941 250 V263 H1042.5" marker-end="url(#ah)"/>
<path d="M1058 241 H1071.5" marker-end="url(#ah)"/>
<path d="M1058 244 H1064 V254.5 H1071.5" marker-end="url(#ah)"/>
<path d="M1058 247 H1067 V267 H1071.5" marker-end="url(#ah)"/>
<path d="M1058 261 H1062 V270 H1073" marker-end="url(#ah)"/>
<path d="M1090 241 H1111.5" marker-end="url(#ah)"/>
<path d="M1094 268 H1116.5" marker-end="url(#ah)"/>
</g>
<g id="wf-pending"><rect class="wf" x="933" y="238" width="19" height="12"/><text class="pt" font-size="2.2" x="942.5" y="244.8">Pending</text></g>
<g id="wf-triaged"><rect class="wf" x="956" y="238" width="14" height="12"/><text class="pt" font-size="2.2" x="963" y="244.8">Triaged</text></g>
<g id="wf-assigned"><rect class="wf" x="977" y="238" width="15" height="12"/><text class="pt" font-size="2.2" x="984.5" y="244.8">Assigned</text></g>
<g id="wf-inprogress"><rect class="wf" x="999" y="238" width="18" height="12"/><text class="pt" font-size="2.2" x="1008" y="244.8">In Progress</text></g>
<g id="wf-completion"><rect class="wf" x="1019" y="238" width="16" height="12"/><text class="pt" font-size="2" x="1027" y="244.7">In Completion</text></g>
<g id="wf-ready"><rect class="wf" x="1043" y="238" width="15" height="12"/><text class="pt" font-size="2.2" x="1050.5" y="244.8">Ready</text></g>
<g id="wf-onhold"><rect class="wf" x="1043" y="255" width="15" height="12"/><text class="pt" font-size="2.2" x="1050.5" y="261.8">On hold</text></g>
<g id="wf-accept"><polygon class="wf" points="1072,241 1081,236 1090,241 1081,246"/><text class="pt" font-size="2.2" x="1081" y="241.8">Accept</text></g>
<g id="wf-reject"><polygon class="wf" points="1072,254.5 1081,250.5 1090,254.5 1081,258.5"/><text class="pt" font-size="2.2" x="1081" y="255.3">Reject</text></g>
<g id="wf-escalate"><polygon class="wf" points="1072,268 1083,262.5 1094,268 1083,273.5"/><text class="pt" font-size="2.2" x="1083" y="268.8">Escalate</text></g>
<g id="wf-o1"><polygon class="wf" points="1092,231 1103,231 1105,233 1105,237 1103,239 1092,239 1090,237 1090,233"/><text class="pt" font-size="1.3" x="1097.5" y="235.5">Add to DOAJ</text></g>
<g id="wf-o2"><polygon class="wf" points="1098,268 1110,268 1112,270 1112,275 1110,277 1098,277 1096,275 1096,270"/><text class="pt" font-size="1.3" x="1104" y="273">Send to team</text></g>
<g id="wf-pub1"><rect class="wf" x="1112" y="236" width="16" height="8" rx="4"/><text class="pt" font-size="1.4" x="1120" y="239.6"><tspan x="1120">Publish to public</tspan><tspan x="1120" dy="1.7">DOAJ index</tspan></text></g>
<g id="wf-pub2"><rect class="wf" x="1117" y="262" width="31" height="11" rx="5.5"/><text class="pt" font-size="1.8" x="1132.5" y="267.2"><tspan x="1132.5">Publish to internal</tspan><tspan x="1132.5" dy="2.1">Ed Platform</tspan></text></g>
<use href="#star" x="963" y="234"/>
<use href="#star" x="982" y="234"/>
<use href="#star" x="1123" y="233"/>
<use href="#star" x="1138" y="257"/>
<use href="#star" x="1085" y="275"/>
<text x="942" y="289" font-family="Liberation Sans, Arial, sans-serif" font-size="8" fill="#333">Proposed Application Workflow</text>
</g>
</svg>
